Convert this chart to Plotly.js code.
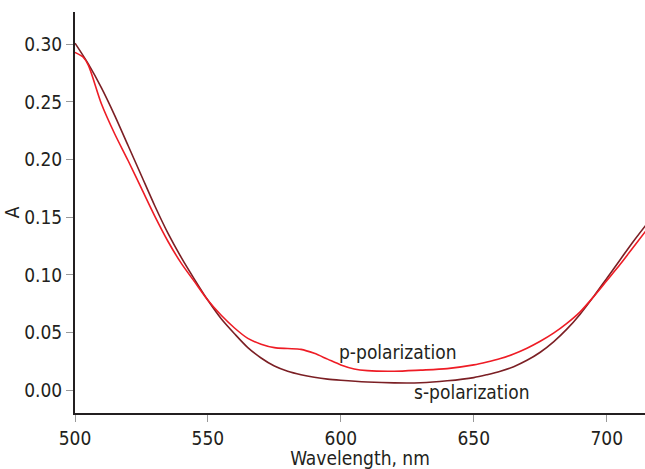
<!DOCTYPE html>
<html>
<head>
<meta charset="utf-8">
<script src="https://cdn.plot.ly/plotly-3.0.1.min.js"></script>
<style>html,body{margin:0;padding:0;background:#fff;}#chart{width:645px;height:469px;}</style>
</head>
<body>
<div id="chart"></div>
<script>
// Wavelength grids (nm)
const wavelengthS = [500,505,510,515,520,525,530,535,540,545,550,555,560,565,570,575,580,585,590,595,600,610,620,630,640,650,655,660,665,670,675,680,685,690,695,700,705,710,715];
const absorbanceS = [0.301,0.283,0.262,0.238,0.212,0.186,0.160,0.136,0.115,0.096,0.078,0.062,0.049,0.037,0.028,0.021,0.0165,0.0135,0.0113,0.0097,0.0087,0.0072,0.0064,0.0065,0.0082,0.011,0.0135,0.0165,0.0205,0.026,0.033,0.042,0.053,0.066,0.081,0.097,0.113,0.129,0.144];

const wavelengthP = [500,503,505,510,515,520,525,530,535,540,545,550,555,560,565,570,575,580,585,590,595,600,605,610,620,630,640,650,655,660,665,670,675,680,685,690,695,700,705,710,715];
const absorbanceP = [0.293,0.289,0.282,0.248,0.222,0.199,0.175,0.151,0.129,0.110,0.094,0.078,0.065,0.054,0.045,0.040,0.037,0.0362,0.0355,0.032,0.027,0.022,0.0185,0.0170,0.0165,0.0175,0.0188,0.022,0.0245,0.0275,0.0315,0.0365,0.0425,0.0495,0.058,0.068,0.081,0.095,0.109,0.124,0.139];

const seriesLabels = ["p-polarization", "s-polarization"];
const xTicks = [500,550,600,650,700];
const yTicks = [0.00,0.05,0.10,0.15,0.20,0.25,0.30];
const yTickText = ["0.00","0.05","0.10","0.15","0.20","0.25","0.30"];

const FONT = "'Liberation Sans Narrow', 'Arial Narrow', 'DejaVu Sans Condensed', sans-serif";

const traces = [
  {x: wavelengthS, y: absorbanceS, mode: "lines", line: {color: "#7b1f24", width: 1.6, shape: "spline", smoothing: 0.8}, name: seriesLabels[1], hoverinfo: "skip"},
  {x: wavelengthP, y: absorbanceP, mode: "lines", line: {color: "#ee1c25", width: 1.6, shape: "spline", smoothing: 0.8}, name: seriesLabels[0], hoverinfo: "skip"}
];

const layout = {
  width: 645, height: 469,
  margin: {l: 75, r: 0, t: 12, b: 56, pad: 0},
  paper_bgcolor: "#fff", plot_bgcolor: "#fff",
  showlegend: false,
  font: {family: FONT, size: 19, color: "#231f20"},
  xaxis: {
    range: [500, 714.4], tickvals: xTicks, ticktext: xTicks.map(String),
    showgrid: false, zeroline: false, showline: true, linecolor: "#231f20", linewidth: 2,
    ticks: "outside", ticklen: 7, tickwidth: 1, tickcolor: "#999",
    tickfont: {family: FONT, size: 19, color: "#231f20"},
    title: {text: "Wavelength, nm", font: {family: FONT, size: 19, color: "#231f20"}, standoff: 4}
  },
  yaxis: {
    range: [-0.0197, 0.328], tickvals: yTicks, ticktext: yTickText,
    showgrid: false, zeroline: false, showline: true, linecolor: "#231f20", linewidth: 2,
    ticks: "outside", ticklen: 7, tickwidth: 1, tickcolor: "#999",
    tickfont: {family: FONT, size: 19, color: "#231f20"},
    title: {text: "A", font: {family: FONT, size: 19, color: "#231f20"}, standoff: 0}
  },
  annotations: [
    {x: 621.5, y: 0.033, xref: "x", yref: "y", text: seriesLabels[0], showarrow: false, font: {family: FONT, size: 19, color: "#231f20"}},
    {x: 649.4, y: -0.0017, xref: "x", yref: "y", text: seriesLabels[1], showarrow: false, font: {family: FONT, size: 19, color: "#231f20"}}
  ]
};

Plotly.newPlot("chart", traces, layout, {staticPlot: true, displayModeBar: false});
</script>
</body>
</html>
